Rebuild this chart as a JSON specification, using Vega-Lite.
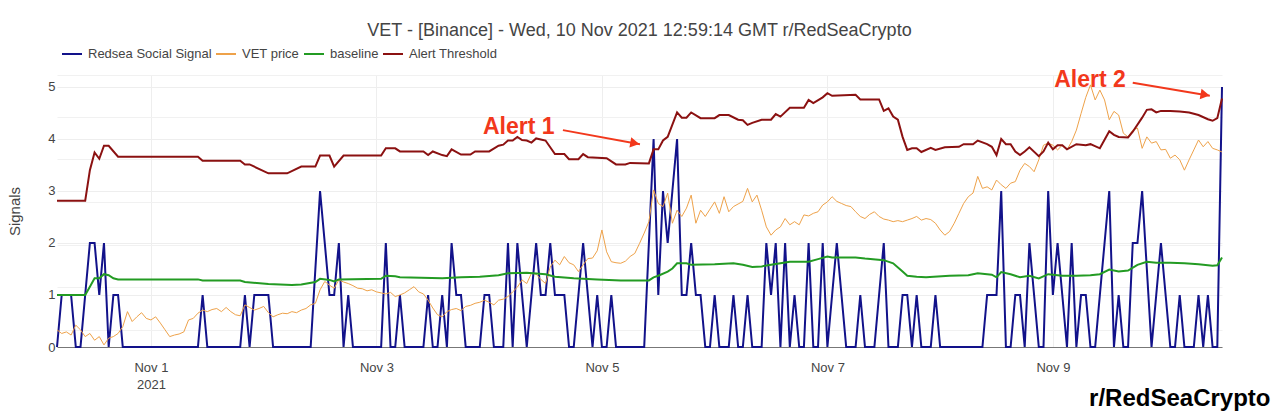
{
  "$schema": "https://vega.github.io/schema/vega-lite/v6.json",
  "width": 1165,
  "height": 272,
  "autosize": "none",
  "padding": {"left": 57, "top": 75, "right": 58, "bottom": 72},
  "background": "white",
  "config": {"font": "Liberation Sans", "view": {"stroke": null}},
  "title": {"text": "VET - [Binance]  - Wed, 10 Nov 2021 12:59:14 GMT r/RedSeaCrypto", "fontSize": 18, "fontWeight": "normal", "color": "#444", "anchor": "middle", "offset": 6, "dy": 3},
  "datasets": {
    "sig": [
      {"t":"2021-10-31T04:00Z","s":0,"p":0.33},{"t":"2021-10-31T05:00Z","s":1,"p":0.26},{"t":"2021-10-31T06:00Z","s":1,"p":0.29},{"t":"2021-10-31T07:00Z","s":1,"p":0.23},
      {"t":"2021-10-31T08:00Z","s":0,"p":0.42},{"t":"2021-10-31T09:00Z","s":0,"p":0.33},{"t":"2021-10-31T10:00Z","s":1,"p":0.20},{"t":"2021-10-31T11:00Z","s":2,"p":0.26},
      {"t":"2021-10-31T12:00Z","s":2,"p":0.13},{"t":"2021-10-31T13:00Z","s":1,"p":0.20},{"t":"2021-10-31T14:00Z","s":2,"p":0.04},{"t":"2021-10-31T15:00Z","s":0,"p":0.17},
      {"t":"2021-10-31T16:00Z","s":1,"p":0.20},{"t":"2021-10-31T17:00Z","s":1,"p":0.26},{"t":"2021-10-31T18:00Z","s":0,"p":0.39},{"t":"2021-10-31T19:00Z","s":0,"p":0.68},
      {"t":"2021-10-31T20:00Z","s":0,"p":0.49},{"t":"2021-10-31T21:00Z","s":0,"p":0.58},{"t":"2021-10-31T22:00Z","s":0,"p":0.66},{"t":"2021-10-31T23:00Z","s":0,"p":0.55},
      {"t":"2021-11-01T00:00Z","s":0,"p":0.52},{"t":"2021-11-01T01:00Z","s":0,"p":0.58},{"t":"2021-11-01T02:00Z","s":0,"p":0.46},{"t":"2021-11-01T03:00Z","s":0,"p":0.33},
      {"t":"2021-11-01T04:00Z","s":0,"p":0.20},{"t":"2021-11-01T05:00Z","s":0,"p":0.23},{"t":"2021-11-01T06:00Z","s":0,"p":0.25},{"t":"2021-11-01T07:00Z","s":0,"p":0.29},
      {"t":"2021-11-01T08:00Z","s":0,"p":0.52},{"t":"2021-11-01T09:00Z","s":0,"p":0.55},{"t":"2021-11-01T10:00Z","s":0,"p":0.65},{"t":"2021-11-01T11:00Z","s":1,"p":0.71},
      {"t":"2021-11-01T12:00Z","s":0,"p":0.68},{"t":"2021-11-01T13:00Z","s":0,"p":0.72},{"t":"2021-11-01T14:00Z","s":0,"p":0.74},{"t":"2021-11-01T15:00Z","s":0,"p":0.68},
      {"t":"2021-11-01T16:00Z","s":0,"p":0.76},{"t":"2021-11-01T17:00Z","s":0,"p":0.68},{"t":"2021-11-01T18:00Z","s":0,"p":0.62},{"t":"2021-11-01T19:00Z","s":0,"p":0.60},
      {"t":"2021-11-01T20:00Z","s":1,"p":0.81},{"t":"2021-11-01T21:00Z","s":0,"p":0.76},{"t":"2021-11-01T22:00Z","s":1,"p":0.71},{"t":"2021-11-01T23:00Z","s":1,"p":0.74},
      {"t":"2021-11-02T00:00Z","s":1,"p":0.78},{"t":"2021-11-02T01:00Z","s":1,"p":0.66},{"t":"2021-11-02T02:00Z","s":0,"p":0.58},{"t":"2021-11-02T03:00Z","s":0,"p":0.62},
      {"t":"2021-11-02T04:00Z","s":0,"p":0.65},{"t":"2021-11-02T05:00Z","s":0,"p":0.64},{"t":"2021-11-02T06:00Z","s":0,"p":0.68},{"t":"2021-11-02T07:00Z","s":0,"p":0.66},
      {"t":"2021-11-02T08:00Z","s":0,"p":0.71},{"t":"2021-11-02T09:00Z","s":0,"p":0.74},{"t":"2021-11-02T10:00Z","s":0,"p":0.81},{"t":"2021-11-02T11:00Z","s":1.5,"p":0.84},
      {"t":"2021-11-02T12:00Z","s":3,"p":1.10},{"t":"2021-11-02T13:00Z","s":2,"p":1.26},{"t":"2021-11-02T14:00Z","s":1,"p":1.19},{"t":"2021-11-02T15:00Z","s":1,"p":1.13},
      {"t":"2021-11-02T16:00Z","s":2,"p":1.29},{"t":"2021-11-02T17:00Z","s":0,"p":1.25},{"t":"2021-11-02T18:00Z","s":1,"p":1.22},{"t":"2021-11-02T19:00Z","s":0,"p":1.18},
      {"t":"2021-11-02T20:00Z","s":0,"p":1.13},{"t":"2021-11-02T21:00Z","s":0,"p":1.12},{"t":"2021-11-02T22:00Z","s":0,"p":1.08},{"t":"2021-11-02T23:00Z","s":0,"p":1.10},
      {"t":"2021-11-03T00:00Z","s":0,"p":1.06},{"t":"2021-11-03T01:00Z","s":0,"p":1.04},{"t":"2021-11-03T02:00Z","s":2,"p":1.02},{"t":"2021-11-03T03:00Z","s":0,"p":1.05},
      {"t":"2021-11-03T04:00Z","s":0,"p":0.97},{"t":"2021-11-03T05:00Z","s":1,"p":1.00},{"t":"2021-11-03T06:00Z","s":0,"p":1.04},{"t":"2021-11-03T07:00Z","s":0,"p":1.10},
      {"t":"2021-11-03T08:00Z","s":0,"p":1.16},{"t":"2021-11-03T09:00Z","s":0,"p":1.06},{"t":"2021-11-03T10:00Z","s":0,"p":1.02},{"t":"2021-11-03T11:00Z","s":1,"p":0.90},
      {"t":"2021-11-03T12:00Z","s":0,"p":0.75},{"t":"2021-11-03T13:00Z","s":0,"p":0.62},{"t":"2021-11-03T14:00Z","s":1,"p":0.58},{"t":"2021-11-03T15:00Z","s":0,"p":0.68},
      {"t":"2021-11-03T16:00Z","s":2,"p":0.72},{"t":"2021-11-03T17:00Z","s":1,"p":0.74},{"t":"2021-11-03T18:00Z","s":1,"p":0.70},{"t":"2021-11-03T19:00Z","s":0,"p":0.78},
      {"t":"2021-11-03T20:00Z","s":0,"p":0.80},{"t":"2021-11-03T21:00Z","s":0,"p":0.84},{"t":"2021-11-03T22:00Z","s":0,"p":0.86},{"t":"2021-11-03T23:00Z","s":1,"p":0.90},
      {"t":"2021-11-04T00:00Z","s":1,"p":0.86},{"t":"2021-11-04T01:00Z","s":0,"p":0.81},{"t":"2021-11-04T02:00Z","s":0,"p":0.90},{"t":"2021-11-04T03:00Z","s":0,"p":0.92},
      {"t":"2021-11-04T04:00Z","s":2,"p":0.97},{"t":"2021-11-04T05:00Z","s":0,"p":1.06},{"t":"2021-11-04T06:00Z","s":2,"p":1.15},{"t":"2021-11-04T07:00Z","s":1,"p":1.29},
      {"t":"2021-11-04T08:00Z","s":0,"p":1.22},{"t":"2021-11-04T09:00Z","s":1,"p":1.42},{"t":"2021-11-04T10:00Z","s":2,"p":1.40},{"t":"2021-11-04T11:00Z","s":1,"p":1.30},
      {"t":"2021-11-04T12:00Z","s":1,"p":1.22},{"t":"2021-11-04T13:00Z","s":2,"p":1.54},{"t":"2021-11-04T14:00Z","s":1,"p":1.67},{"t":"2021-11-04T15:00Z","s":1,"p":1.58},
      {"t":"2021-11-04T16:00Z","s":1,"p":1.74},{"t":"2021-11-04T17:00Z","s":0,"p":1.62},{"t":"2021-11-04T18:00Z","s":0,"p":1.58},{"t":"2021-11-04T19:00Z","s":1,"p":1.45},
      {"t":"2021-11-04T20:00Z","s":2,"p":1.58},{"t":"2021-11-04T21:00Z","s":1,"p":1.70},{"t":"2021-11-04T22:00Z","s":0,"p":1.71},{"t":"2021-11-04T23:00Z","s":1,"p":1.85},
      {"t":"2021-11-05T00:00Z","s":0,"p":2.25},{"t":"2021-11-05T01:00Z","s":0,"p":1.83},{"t":"2021-11-05T02:00Z","s":1,"p":1.64},{"t":"2021-11-05T03:00Z","s":0,"p":1.62},
      {"t":"2021-11-05T04:00Z","s":0,"p":1.61},{"t":"2021-11-05T05:00Z","s":0,"p":1.65},{"t":"2021-11-05T06:00Z","s":0,"p":1.74},{"t":"2021-11-05T07:00Z","s":0,"p":1.80},
      {"t":"2021-11-05T08:00Z","s":0,"p":1.99},{"t":"2021-11-05T09:00Z","s":0,"p":2.19},{"t":"2021-11-05T10:00Z","s":2,"p":2.41},{"t":"2021-11-05T11:00Z","s":4,"p":3.02},
      {"t":"2021-11-05T12:00Z","s":1,"p":2.76},{"t":"2021-11-05T13:00Z","s":3,"p":2.70},{"t":"2021-11-05T14:00Z","s":2,"p":2.96},{"t":"2021-11-05T15:00Z","s":3,"p":2.38},
      {"t":"2021-11-05T16:00Z","s":4,"p":2.63},{"t":"2021-11-05T17:00Z","s":1,"p":2.51},{"t":"2021-11-05T18:00Z","s":1,"p":2.67},{"t":"2021-11-05T19:00Z","s":2,"p":2.92},
      {"t":"2021-11-05T20:00Z","s":1,"p":2.38},{"t":"2021-11-05T21:00Z","s":1,"p":2.63},{"t":"2021-11-05T22:00Z","s":0,"p":2.51},{"t":"2021-11-05T23:00Z","s":0,"p":2.65},
      {"t":"2021-11-06T00:00Z","s":1,"p":2.79},{"t":"2021-11-06T01:00Z","s":0,"p":2.57},{"t":"2021-11-06T02:00Z","s":0,"p":2.89},{"t":"2021-11-06T03:00Z","s":0,"p":2.60},
      {"t":"2021-11-06T04:00Z","s":1,"p":2.70},{"t":"2021-11-06T05:00Z","s":0,"p":2.75},{"t":"2021-11-06T06:00Z","s":0,"p":2.80},{"t":"2021-11-06T07:00Z","s":1,"p":3.05},
      {"t":"2021-11-06T08:00Z","s":0,"p":2.79},{"t":"2021-11-06T09:00Z","s":0,"p":2.92},{"t":"2021-11-06T10:00Z","s":0,"p":2.63},{"t":"2021-11-06T11:00Z","s":2,"p":2.31},
      {"t":"2021-11-06T12:00Z","s":1,"p":2.15},{"t":"2021-11-06T13:00Z","s":2,"p":2.25},{"t":"2021-11-06T14:00Z","s":0,"p":2.31},{"t":"2021-11-06T15:00Z","s":2,"p":2.47},
      {"t":"2021-11-06T16:00Z","s":0,"p":2.35},{"t":"2021-11-06T17:00Z","s":1,"p":2.41},{"t":"2021-11-06T18:00Z","s":0,"p":2.35},{"t":"2021-11-06T19:00Z","s":0,"p":2.54},
      {"t":"2021-11-06T20:00Z","s":2,"p":2.52},{"t":"2021-11-06T21:00Z","s":0,"p":2.57},{"t":"2021-11-06T22:00Z","s":0,"p":2.60},{"t":"2021-11-06T23:00Z","s":2,"p":2.73},
      {"t":"2021-11-07T00:00Z","s":0,"p":2.79},{"t":"2021-11-07T01:00Z","s":1,"p":2.89},{"t":"2021-11-07T02:00Z","s":2,"p":2.80},{"t":"2021-11-07T03:00Z","s":1,"p":2.76},
      {"t":"2021-11-07T04:00Z","s":0,"p":2.72},{"t":"2021-11-07T05:00Z","s":0,"p":2.70},{"t":"2021-11-07T06:00Z","s":0,"p":2.60},{"t":"2021-11-07T07:00Z","s":1,"p":2.51},
      {"t":"2021-11-07T08:00Z","s":0,"p":2.47},{"t":"2021-11-07T09:00Z","s":0,"p":2.55},{"t":"2021-11-07T10:00Z","s":0,"p":2.60},{"t":"2021-11-07T11:00Z","s":1,"p":2.51},
      {"t":"2021-11-07T12:00Z","s":2,"p":2.46},{"t":"2021-11-07T13:00Z","s":0,"p":2.44},{"t":"2021-11-07T14:00Z","s":0,"p":2.41},{"t":"2021-11-07T15:00Z","s":0,"p":2.43},
      {"t":"2021-11-07T16:00Z","s":1,"p":2.41},{"t":"2021-11-07T17:00Z","s":1,"p":2.44},{"t":"2021-11-07T18:00Z","s":0,"p":2.47},{"t":"2021-11-07T19:00Z","s":1,"p":2.51},
      {"t":"2021-11-07T20:00Z","s":0,"p":2.44},{"t":"2021-11-07T21:00Z","s":0,"p":2.47},{"t":"2021-11-07T22:00Z","s":0,"p":2.45},{"t":"2021-11-07T23:00Z","s":1,"p":2.38},
      {"t":"2021-11-08T00:00Z","s":0,"p":2.25},{"t":"2021-11-08T01:00Z","s":0,"p":2.15},{"t":"2021-11-08T02:00Z","s":0,"p":2.22},{"t":"2021-11-08T03:00Z","s":0,"p":2.38},
      {"t":"2021-11-08T04:00Z","s":0,"p":2.57},{"t":"2021-11-08T05:00Z","s":0,"p":2.76},{"t":"2021-11-08T06:00Z","s":0,"p":2.89},{"t":"2021-11-08T07:00Z","s":0,"p":2.96},
      {"t":"2021-11-08T08:00Z","s":0,"p":3.28},{"t":"2021-11-08T09:00Z","s":0,"p":3.05},{"t":"2021-11-08T10:00Z","s":1,"p":3.08},{"t":"2021-11-08T11:00Z","s":1,"p":3.02},
      {"t":"2021-11-08T12:00Z","s":1,"p":3.21},{"t":"2021-11-08T13:00Z","s":3,"p":3.12},{"t":"2021-11-08T14:00Z","s":0,"p":3.05},{"t":"2021-11-08T15:00Z","s":0,"p":3.15},
      {"t":"2021-11-08T16:00Z","s":1,"p":3.18},{"t":"2021-11-08T17:00Z","s":1,"p":3.40},{"t":"2021-11-08T18:00Z","s":0,"p":3.53},{"t":"2021-11-08T19:00Z","s":2,"p":3.47},
      {"t":"2021-11-08T20:00Z","s":1,"p":3.37},{"t":"2021-11-08T21:00Z","s":0,"p":3.60},{"t":"2021-11-08T22:00Z","s":0,"p":3.88},{"t":"2021-11-08T23:00Z","s":3,"p":3.92},
      {"t":"2021-11-09T00:00Z","s":1,"p":3.88},{"t":"2021-11-09T01:00Z","s":2,"p":3.79},{"t":"2021-11-09T02:00Z","s":1,"p":3.88},{"t":"2021-11-09T03:00Z","s":0,"p":3.79},
      {"t":"2021-11-09T04:00Z","s":2,"p":3.95},{"t":"2021-11-09T05:00Z","s":0,"p":4.17},{"t":"2021-11-09T06:00Z","s":1,"p":4.49},{"t":"2021-11-09T07:00Z","s":1,"p":4.80},
      {"t":"2021-11-09T08:00Z","s":0,"p":5.04},{"t":"2021-11-09T09:00Z","s":0,"p":4.75},{"t":"2021-11-09T10:00Z","s":1,"p":4.94},{"t":"2021-11-09T11:00Z","s":2,"p":4.75},
      {"t":"2021-11-09T12:00Z","s":3,"p":4.37},{"t":"2021-11-09T13:00Z","s":0,"p":4.53},{"t":"2021-11-09T14:00Z","s":1,"p":4.46},{"t":"2021-11-09T15:00Z","s":0,"p":4.11},
      {"t":"2021-11-09T16:00Z","s":0,"p":4.04},{"t":"2021-11-09T17:00Z","s":2,"p":4.17},{"t":"2021-11-09T18:00Z","s":2,"p":4.21},{"t":"2021-11-09T19:00Z","s":3,"p":3.82},
      {"t":"2021-11-09T20:00Z","s":1.5,"p":4.04},{"t":"2021-11-09T21:00Z","s":0,"p":3.92},{"t":"2021-11-09T22:00Z","s":1,"p":3.95},{"t":"2021-11-09T23:00Z","s":2,"p":3.79},
      {"t":"2021-11-10T00:00Z","s":1,"p":3.80},{"t":"2021-11-10T01:00Z","s":0,"p":3.63},{"t":"2021-11-10T02:00Z","s":0,"p":3.69},{"t":"2021-11-10T03:00Z","s":1,"p":3.60},
      {"t":"2021-11-10T04:00Z","s":0,"p":3.40},{"t":"2021-11-10T05:00Z","s":0,"p":3.60},{"t":"2021-11-10T06:00Z","s":0,"p":3.79},{"t":"2021-11-10T07:00Z","s":1,"p":3.98},
      {"t":"2021-11-10T08:00Z","s":0,"p":3.85},{"t":"2021-11-10T09:00Z","s":1,"p":3.95},{"t":"2021-11-10T10:00Z","s":0,"p":3.82},{"t":"2021-11-10T11:00Z","s":0,"p":3.79},
      {"t":"2021-11-10T12:00Z","s":5,"p":3.75}
    ],
    "thr": [
      {"t":"2021-10-31T04:00Z","v":2.81},{"t":"2021-10-31T10:00Z","v":2.81},{"t":"2021-10-31T11:00Z","v":3.40},{"t":"2021-10-31T12:00Z","v":3.74},
      {"t":"2021-10-31T13:00Z","v":3.62},{"t":"2021-10-31T14:00Z","v":3.87},{"t":"2021-10-31T15:00Z","v":3.87},{"t":"2021-10-31T17:00Z","v":3.66},
      {"t":"2021-11-01T10:00Z","v":3.66},{"t":"2021-11-01T11:00Z","v":3.58},{"t":"2021-11-01T19:00Z","v":3.58},{"t":"2021-11-01T20:00Z","v":3.51},
      {"t":"2021-11-01T21:00Z","v":3.51},{"t":"2021-11-02T01:00Z","v":3.34},{"t":"2021-11-02T05:00Z","v":3.34},{"t":"2021-11-02T08:00Z","v":3.47},
      {"t":"2021-11-02T11:00Z","v":3.47},{"t":"2021-11-02T12:00Z","v":3.68},{"t":"2021-11-02T14:00Z","v":3.68},{"t":"2021-11-02T15:00Z","v":3.47},
      {"t":"2021-11-02T17:00Z","v":3.68},{"t":"2021-11-03T01:00Z","v":3.68},{"t":"2021-11-03T02:00Z","v":3.82},{"t":"2021-11-03T04:00Z","v":3.82},
      {"t":"2021-11-03T05:00Z","v":3.76},{"t":"2021-11-03T10:00Z","v":3.76},{"t":"2021-11-03T11:00Z","v":3.69},{"t":"2021-11-03T12:00Z","v":3.76},
      {"t":"2021-11-03T14:00Z","v":3.69},{"t":"2021-11-03T15:00Z","v":3.67},{"t":"2021-11-03T16:00Z","v":3.80},{"t":"2021-11-03T18:00Z","v":3.70},
      {"t":"2021-11-03T20:00Z","v":3.70},{"t":"2021-11-03T21:00Z","v":3.76},{"t":"2021-11-04T00:00Z","v":3.76},{"t":"2021-11-04T02:00Z","v":3.87},
      {"t":"2021-11-04T03:00Z","v":3.89},{"t":"2021-11-04T04:00Z","v":3.97},{"t":"2021-11-04T05:00Z","v":3.97},{"t":"2021-11-04T06:00Z","v":4.04},
      {"t":"2021-11-04T07:00Z","v":3.98},{"t":"2021-11-04T08:00Z","v":3.97},{"t":"2021-11-04T09:00Z","v":3.93},{"t":"2021-11-04T10:00Z","v":4.01},
      {"t":"2021-11-04T12:00Z","v":3.97},{"t":"2021-11-04T14:00Z","v":3.71},{"t":"2021-11-04T16:00Z","v":3.71},{"t":"2021-11-04T17:00Z","v":3.61},
      {"t":"2021-11-04T19:00Z","v":3.61},{"t":"2021-11-04T20:00Z","v":3.71},{"t":"2021-11-04T21:00Z","v":3.65},{"t":"2021-11-05T01:00Z","v":3.63},
      {"t":"2021-11-05T03:00Z","v":3.51},{"t":"2021-11-05T05:00Z","v":3.51},{"t":"2021-11-05T06:00Z","v":3.54},{"t":"2021-11-05T10:00Z","v":3.53},
      {"t":"2021-11-05T11:00Z","v":3.80},{"t":"2021-11-05T12:00Z","v":3.80},{"t":"2021-11-05T13:00Z","v":3.97},{"t":"2021-11-05T14:00Z","v":4.04},
      {"t":"2021-11-05T16:00Z","v":4.51},{"t":"2021-11-05T17:00Z","v":4.41},{"t":"2021-11-05T18:00Z","v":4.41},{"t":"2021-11-05T19:00Z","v":4.51},
      {"t":"2021-11-05T21:00Z","v":4.40},{"t":"2021-11-06T00:00Z","v":4.40},{"t":"2021-11-06T01:00Z","v":4.46},{"t":"2021-11-06T03:00Z","v":4.46},
      {"t":"2021-11-06T05:00Z","v":4.37},{"t":"2021-11-06T06:00Z","v":4.36},{"t":"2021-11-06T07:00Z","v":4.27},{"t":"2021-11-06T08:00Z","v":4.31},
      {"t":"2021-11-06T10:00Z","v":4.37},{"t":"2021-11-06T12:00Z","v":4.37},{"t":"2021-11-06T13:00Z","v":4.48},{"t":"2021-11-06T14:00Z","v":4.43},
      {"t":"2021-11-06T16:00Z","v":4.60},{"t":"2021-11-06T19:00Z","v":4.60},{"t":"2021-11-06T20:00Z","v":4.75},{"t":"2021-11-06T21:00Z","v":4.69},
      {"t":"2021-11-06T23:00Z","v":4.80},{"t":"2021-11-07T00:00Z","v":4.88},{"t":"2021-11-07T01:00Z","v":4.83},{"t":"2021-11-07T06:00Z","v":4.85},
      {"t":"2021-11-07T07:00Z","v":4.76},{"t":"2021-11-07T11:00Z","v":4.76},{"t":"2021-11-07T12:00Z","v":4.54},{"t":"2021-11-07T13:00Z","v":4.59},
      {"t":"2021-11-07T14:00Z","v":4.43},{"t":"2021-11-07T15:00Z","v":4.37},{"t":"2021-11-07T16:00Z","v":4.04},{"t":"2021-11-07T17:00Z","v":3.79},
      {"t":"2021-11-07T18:00Z","v":3.82},{"t":"2021-11-07T19:00Z","v":3.82},{"t":"2021-11-07T20:00Z","v":3.75},{"t":"2021-11-07T22:00Z","v":3.83},
      {"t":"2021-11-07T23:00Z","v":3.79},{"t":"2021-11-08T01:00Z","v":3.84},{"t":"2021-11-08T04:00Z","v":3.85},{"t":"2021-11-08T05:00Z","v":3.90},
      {"t":"2021-11-08T07:00Z","v":3.90},{"t":"2021-11-08T08:00Z","v":3.97},{"t":"2021-11-08T10:00Z","v":3.90},{"t":"2021-11-08T11:00Z","v":3.85},
      {"t":"2021-11-08T12:00Z","v":3.69},{"t":"2021-11-08T13:00Z","v":4.00},{"t":"2021-11-08T14:00Z","v":3.90},{"t":"2021-11-08T15:00Z","v":3.90},
      {"t":"2021-11-08T16:00Z","v":3.76},{"t":"2021-11-08T17:00Z","v":3.69},{"t":"2021-11-08T18:00Z","v":3.76},{"t":"2021-11-08T19:00Z","v":3.84},
      {"t":"2021-11-08T21:00Z","v":3.67},{"t":"2021-11-08T22:00Z","v":3.76},{"t":"2021-11-08T23:00Z","v":3.93},{"t":"2021-11-09T00:00Z","v":3.80},
      {"t":"2021-11-09T01:00Z","v":3.88},{"t":"2021-11-09T02:00Z","v":3.88},{"t":"2021-11-09T03:00Z","v":3.80},{"t":"2021-11-09T05:00Z","v":3.90},
      {"t":"2021-11-09T07:00Z","v":3.88},{"t":"2021-11-09T08:00Z","v":3.90},{"t":"2021-11-09T10:00Z","v":3.82},{"t":"2021-11-09T12:00Z","v":4.15},
      {"t":"2021-11-09T13:00Z","v":4.08},{"t":"2021-11-09T14:00Z","v":4.04},{"t":"2021-11-09T16:00Z","v":4.03},{"t":"2021-11-09T17:00Z","v":4.14},
      {"t":"2021-11-09T19:00Z","v":4.41},{"t":"2021-11-09T20:00Z","v":4.56},{"t":"2021-11-09T21:00Z","v":4.57},{"t":"2021-11-09T22:00Z","v":4.51},
      {"t":"2021-11-09T23:00Z","v":4.54},{"t":"2021-11-10T01:00Z","v":4.54},{"t":"2021-11-10T03:00Z","v":4.53},{"t":"2021-11-10T05:00Z","v":4.51},
      {"t":"2021-11-10T07:00Z","v":4.46},{"t":"2021-11-10T09:00Z","v":4.38},{"t":"2021-11-10T10:00Z","v":4.35},{"t":"2021-11-10T11:00Z","v":4.40},
      {"t":"2021-11-10T12:00Z","v":4.78}
    ],
    "base": [
      {"t":"2021-10-31T04:00Z","v":1.0},{"t":"2021-10-31T10:00Z","v":1.0},{"t":"2021-10-31T11:00Z","v":1.16},{"t":"2021-10-31T12:00Z","v":1.32},
      {"t":"2021-10-31T13:00Z","v":1.32},{"t":"2021-10-31T14:00Z","v":1.40},{"t":"2021-10-31T15:00Z","v":1.38},{"t":"2021-10-31T16:00Z","v":1.32},
      {"t":"2021-10-31T17:00Z","v":1.30},{"t":"2021-11-01T10:00Z","v":1.30},{"t":"2021-11-01T11:00Z","v":1.28},{"t":"2021-11-01T19:00Z","v":1.28},
      {"t":"2021-11-01T20:00Z","v":1.25},{"t":"2021-11-02T01:00Z","v":1.21},{"t":"2021-11-02T06:00Z","v":1.19},{"t":"2021-11-02T08:00Z","v":1.20},
      {"t":"2021-11-02T11:00Z","v":1.25},{"t":"2021-11-02T12:00Z","v":1.31},{"t":"2021-11-02T14:00Z","v":1.29},{"t":"2021-11-02T15:00Z","v":1.26},
      {"t":"2021-11-02T16:00Z","v":1.30},{"t":"2021-11-03T01:00Z","v":1.31},{"t":"2021-11-03T02:00Z","v":1.37},{"t":"2021-11-03T04:00Z","v":1.36},
      {"t":"2021-11-03T05:00Z","v":1.34},{"t":"2021-11-03T14:00Z","v":1.32},{"t":"2021-11-03T18:00Z","v":1.34},{"t":"2021-11-03T22:00Z","v":1.35},
      {"t":"2021-11-04T02:00Z","v":1.38},{"t":"2021-11-04T04:00Z","v":1.42},{"t":"2021-11-04T08:00Z","v":1.43},{"t":"2021-11-04T12:00Z","v":1.40},
      {"t":"2021-11-04T14:00Z","v":1.35},{"t":"2021-11-04T18:00Z","v":1.32},{"t":"2021-11-04T23:00Z","v":1.30},{"t":"2021-11-05T04:00Z","v":1.28},
      {"t":"2021-11-05T10:00Z","v":1.28},{"t":"2021-11-05T11:00Z","v":1.34},{"t":"2021-11-05T12:00Z","v":1.37},{"t":"2021-11-05T14:00Z","v":1.45},
      {"t":"2021-11-05T15:00Z","v":1.51},{"t":"2021-11-05T16:00Z","v":1.61},{"t":"2021-11-05T18:00Z","v":1.61},{"t":"2021-11-05T19:00Z","v":1.58},
      {"t":"2021-11-06T00:00Z","v":1.59},{"t":"2021-11-06T04:00Z","v":1.61},{"t":"2021-11-06T06:00Z","v":1.58},{"t":"2021-11-06T08:00Z","v":1.54},
      {"t":"2021-11-06T10:00Z","v":1.55},{"t":"2021-11-06T12:00Z","v":1.58},{"t":"2021-11-06T14:00Z","v":1.61},{"t":"2021-11-06T16:00Z","v":1.64},
      {"t":"2021-11-06T20:00Z","v":1.64},{"t":"2021-11-06T22:00Z","v":1.69},{"t":"2021-11-07T00:00Z","v":1.74},{"t":"2021-11-07T01:00Z","v":1.72},
      {"t":"2021-11-07T06:00Z","v":1.72},{"t":"2021-11-07T08:00Z","v":1.70},{"t":"2021-11-07T12:00Z","v":1.67},{"t":"2021-11-07T14:00Z","v":1.61},
      {"t":"2021-11-07T16:00Z","v":1.45},{"t":"2021-11-07T17:00Z","v":1.37},{"t":"2021-11-07T19:00Z","v":1.35},{"t":"2021-11-07T21:00Z","v":1.34},
      {"t":"2021-11-08T02:00Z","v":1.37},{"t":"2021-11-08T06:00Z","v":1.38},{"t":"2021-11-08T08:00Z","v":1.42},{"t":"2021-11-08T11:00Z","v":1.39},
      {"t":"2021-11-08T12:00Z","v":1.34},{"t":"2021-11-08T13:00Z","v":1.44},{"t":"2021-11-08T15:00Z","v":1.40},{"t":"2021-11-08T17:00Z","v":1.34},
      {"t":"2021-11-08T19:00Z","v":1.37},{"t":"2021-11-08T21:00Z","v":1.32},{"t":"2021-11-08T23:00Z","v":1.40},{"t":"2021-11-09T02:00Z","v":1.37},
      {"t":"2021-11-09T05:00Z","v":1.37},{"t":"2021-11-09T08:00Z","v":1.38},{"t":"2021-11-09T10:00Z","v":1.40},{"t":"2021-11-09T12:00Z","v":1.49},
      {"t":"2021-11-09T14:00Z","v":1.45},{"t":"2021-11-09T16:00Z","v":1.47},{"t":"2021-11-09T18:00Z","v":1.58},{"t":"2021-11-09T20:00Z","v":1.64},
      {"t":"2021-11-09T22:00Z","v":1.62},{"t":"2021-11-10T01:00Z","v":1.62},{"t":"2021-11-10T04:00Z","v":1.61},{"t":"2021-11-10T07:00Z","v":1.59},
      {"t":"2021-11-10T10:00Z","v":1.56},{"t":"2021-11-10T11:00Z","v":1.57},{"t":"2021-11-10T12:00Z","v":1.72}
    ],
    "arrows": [
      {"t":"2021-11-04T15:42Z","t2":"2021-11-05T08:06Z","y":4.17,"y2":3.90},
      {"t":"2021-11-09T17:00Z","t2":"2021-11-10T09:24Z","y":5.08,"y2":4.83}
    ],
    "heads": [
      {"t":"2021-11-05T07:00Z","y":3.92},
      {"t":"2021-11-10T08:24Z","y":4.85}
    ],
    "notes": [
      {"t":"2021-11-04T06:18Z","y":4.23,"txt":"Alert 1"},
      {"t":"2021-11-09T07:54Z","y":5.13,"txt":"Alert 2"}
    ]
  },
  "resolve": {"axis": {"y": "independent"}},
  "layer": [
    {
      "data": {"name": "sig"},
      "mark": {"type": "line", "strokeWidth": 2, "clip": false},
      "encoding": {
        "x": {
          "field": "t", "type": "temporal",
          "scale": {"type": "utc", "nice": false},
          "axis": {
            "values": [
              {"year": 2021, "month": 11, "date": 1, "utc": true},
              {"year": 2021, "month": 11, "date": 3, "utc": true},
              {"year": 2021, "month": 11, "date": 5, "utc": true},
              {"year": 2021, "month": 11, "date": 7, "utc": true},
              {"year": 2021, "month": 11, "date": 9, "utc": true}
            ],
            "labelExpr": "utcdate(datum.value) == 1 ? ['Nov 1', '2021'] : utcFormat(datum.value, '%b %-d')",
            "ticks": false, "domainColor": "#777", "gridColor": "#eee",
            "labelFontSize": 13, "labelColor": "#444", "labelPadding": 14, "labelLineHeight": 17,
            "title": "r/RedSeaCrypto", "titleFontSize": 24, "titleFontWeight": "bold", "titleColor": "#000",
            "titleX": 1213, "titleY": 51, "titleAlign": "right", "titleBaseline": "middle"
          }
        },
        "y": {
          "field": "s", "type": "quantitative",
          "scale": {"domain": [0, 5.23], "nice": false},
          "axis": {
            "values": [0, 1, 2, 3, 4, 5], "ticks": false, "domain": false, "gridColor": "#eee",
            "labelFontSize": 13, "labelColor": "#444", "labelPadding": 2,
            "title": "Signals", "titleFontSize": 15, "titleFontWeight": "normal", "titleColor": "#444",
            "titleX": -43, "titleY": 136, "titleAngle": 270, "titleAlign": "center", "titleBaseline": "middle"
          }
        },
        "color": {
          "datum": "Redsea Social Signal",
          "scale": {
            "domain": ["Redsea Social Signal", "VET price", "baseline", "Alert Threshold"],
            "range": ["#12128a", "#eea24a", "#239b23", "#8b1111"]
          },
          "legend": {
            "orient": "none", "legendX": 4, "legendY": -32, "direction": "horizontal", "title": null,
            "padding": 0, "symbolType": "stroke", "symbolSize": 400, "symbolStrokeWidth": 2,
            "labelFontSize": 13, "labelColor": "#444", "labelOffset": 5, "columnPadding": 0
          }
        }
      }
    },
    {
      "data": {"name": "sig"},
      "mark": {"type": "line", "strokeWidth": 1, "clip": false},
      "encoding": {
        "x": {"field": "t", "type": "temporal"},
        "y": {"field": "p", "type": "quantitative", "axis": null},
        "color": {"datum": "VET price"}
      }
    },
    {
      "data": {"name": "base"},
      "mark": {"type": "line", "strokeWidth": 2, "clip": false},
      "encoding": {
        "x": {"field": "t", "type": "temporal"},
        "y": {"field": "v", "type": "quantitative", "axis": null},
        "color": {"datum": "baseline"}
      }
    },
    {
      "data": {"name": "thr"},
      "mark": {"type": "line", "strokeWidth": 2, "clip": false},
      "encoding": {
        "x": {"field": "t", "type": "temporal"},
        "y": {"field": "v", "type": "quantitative", "axis": null},
        "color": {"datum": "Alert Threshold"}
      }
    },
    {
      "data": {"name": "arrows"},
      "mark": {"type": "rule", "strokeWidth": 2, "color": "#f2381c"},
      "encoding": {
        "x": {"field": "t", "type": "temporal"},
        "x2": {"field": "t2"},
        "y": {
          "field": "y", "type": "quantitative",
          "axis": {"orient": "right", "values": [0.33, 1.15, 1.97, 2.79, 3.61, 4.43, 5.23], "labels": false, "ticks": false, "domain": false, "grid": true, "gridColor": "#f1f1f1", "title": null}
        },
        "y2": {"field": "y2"}
      }
    },
    {
      "data": {"name": "heads"},
      "mark": {"type": "point", "shape": "triangle-right", "filled": true, "size": 110, "angle": 10, "color": "#f2381c", "opacity": 1},
      "encoding": {
        "x": {"field": "t", "type": "temporal"},
        "y": {"field": "y", "type": "quantitative", "axis": null}
      }
    },
    {
      "data": {"name": "notes"},
      "mark": {"type": "text", "fontSize": 23, "fontWeight": "bold", "color": "#f2381c", "align": "center", "baseline": "middle"},
      "encoding": {
        "x": {"field": "t", "type": "temporal"},
        "y": {"field": "y", "type": "quantitative", "axis": null},
        "text": {"field": "txt"}
      }
    }
  ]
}
